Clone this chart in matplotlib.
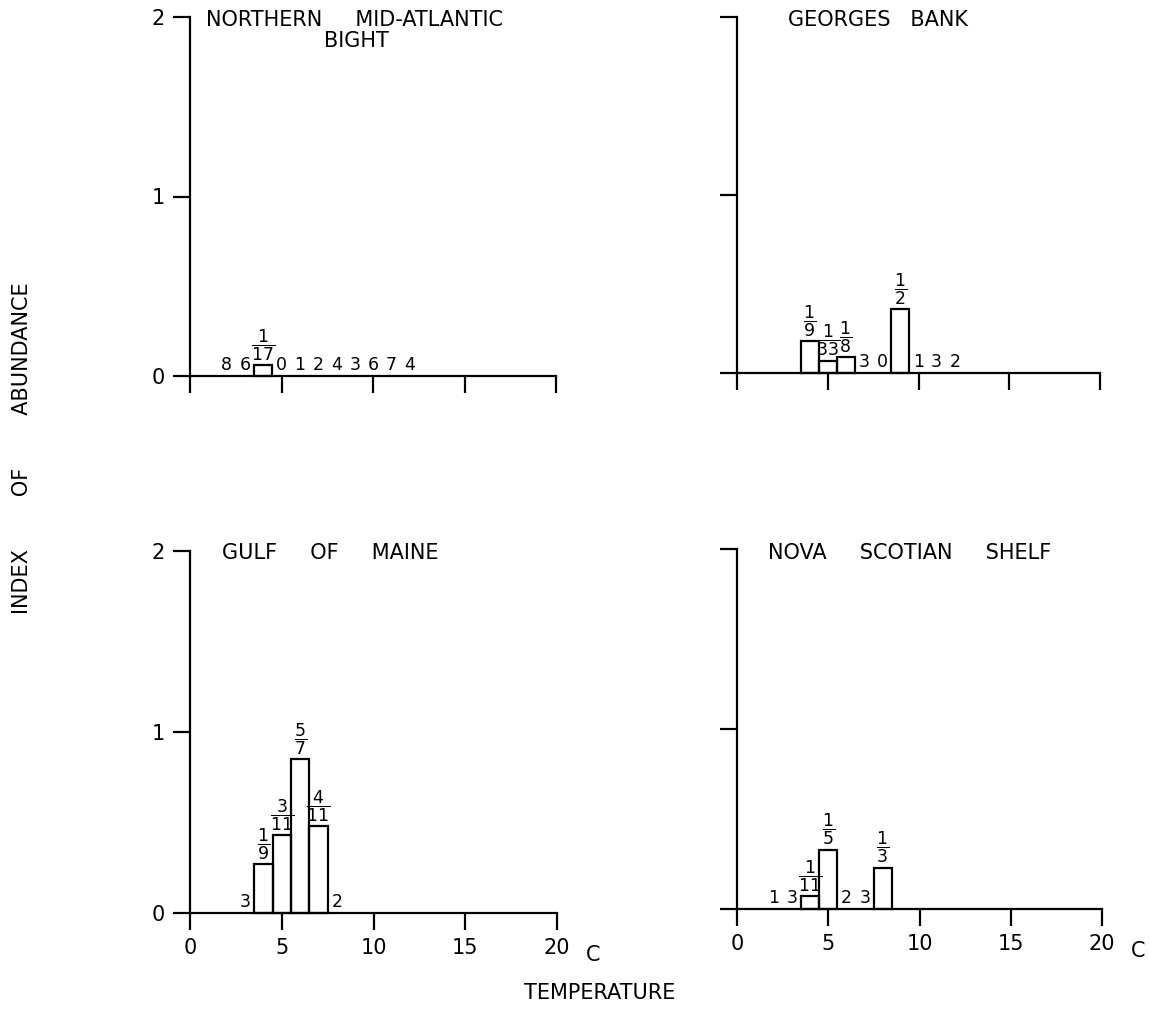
import matplotlib
matplotlib.use("Agg")
import matplotlib.pyplot as plt

plt.rcParams['font.family'] = ['DejaVu Sans']
plt.rcParams['mathtext.fontset'] = 'dejavusans'
plt.rcParams['mathtext.default'] = 'regular'

# ---- data ----
# Northern Mid-Atlantic Bight
nmab_bins = [4]
nmab_vals = [0.06]
nmab_fracs = [("1", "17")]
nmab_zero_bins = [2, 3, 5, 6, 7, 8, 9, 10, 11, 12]
nmab_zero_labels = ["8", "6", "0", "1", "2", "4", "3", "6", "7", "4"]

# Georges Bank
gb_bins = [4, 5, 6, 9]
gb_vals = [0.18, 0.07, 0.09, 0.36]
gb_fracs = [("1", "9"), ("1", "33"), ("1", "8"), ("1", "2")]
gb_zero_bins = [7, 8, 10, 11, 12]
gb_zero_labels = ["3", "0", "1", "3", "2"]

# Gulf of Maine
gom_bins = [4, 5, 6, 7]
gom_vals = [0.27, 0.43, 0.85, 0.48]
gom_fracs = [("1", "9"), ("3", "11"), ("5", "7"), ("4", "11")]
gom_zero_bins = [3, 8]
gom_zero_labels = ["3", "2"]

# Nova Scotian Shelf
nss_bins = [4, 5, 8]
nss_vals = [0.074, 0.33, 0.23]
nss_fracs = [("1", "11"), ("1", "5"), ("1", "3")]
nss_zero_bins = [2, 3, 6, 7]
nss_zero_labels = ["1", "3", "2", "3"]

x_ticks = [0, 5, 10, 15, 20]
y_ticks = [0, 1, 2]

W, H = 1150, 1014
fig = plt.figure(figsize=(W / 100, H / 100), dpi=100)


def rect(l, r, b, t):
    return [l / W, 1 - b / H, (r - l) / W, (b - t) / H]


panels = [
    dict(rect=rect(190, 556, 376, 17), bins=nmab_bins, vals=nmab_vals, fracs=nmab_fracs,
         zb=nmab_zero_bins, zl=nmab_zero_labels, ylab=True, xlab=False),
    dict(rect=rect(737, 1100, 373, 17), bins=gb_bins, vals=gb_vals, fracs=gb_fracs,
         zb=gb_zero_bins, zl=gb_zero_labels, ylab=False, xlab=False),
    dict(rect=rect(190, 557, 913, 551), bins=gom_bins, vals=gom_vals, fracs=gom_fracs,
         zb=gom_zero_bins, zl=gom_zero_labels, ylab=True, xlab=True),
    dict(rect=rect(737, 1102, 909, 549), bins=nss_bins, vals=nss_vals, fracs=nss_fracs,
         zb=nss_zero_bins, zl=nss_zero_labels, ylab=False, xlab=True),
]

lw = 1.6
for p in panels:
    ax = fig.add_axes(p["rect"])
    ax.set_xlim(0, 20)
    ax.set_ylim(0, 2)
    for s in ("top", "right"):
        ax.spines[s].set_visible(False)
    for s in ("left", "bottom"):
        ax.spines[s].set_linewidth(lw)
    ax.set_xticks(x_ticks)
    ax.set_yticks(y_ticks)
    ax.tick_params(direction="out", length=12, width=lw, labelsize=15, pad=6)
    if not p["ylab"]:
        ax.set_yticklabels([])
    if not p["xlab"]:
        ax.set_xticklabels([])
    else:
        ax.annotate("C", xy=(20, 0), xytext=(26, -23), textcoords="offset points",
                    ha="center", va="top", fontsize=15)
    ax.bar(p["bins"], p["vals"], width=1.0, fill=False, edgecolor="black",
           linewidth=lw, clip_on=False)
    for b, v, (n, d) in zip(p["bins"], p["vals"], p["fracs"]):
        ax.text(b, v + 0.012, r"$\dfrac{%s}{%s}$" % (n, d), ha="center", va="bottom",
                fontsize=12.5)
    for b, t in zip(p["zb"], p["zl"]):
        ax.text(b, 0.012, t, ha="center", va="bottom", fontsize=12.5)

# titles
tk = dict(fontsize=15, va="center")
fig.text(206 / W, 1 - 20 / H, "NORTHERN     MID-ATLANTIC", ha="left", **tk)
fig.text(356 / W, 1 - 41 / H, "BIGHT", ha="center", **tk)
fig.text(788 / W, 1 - 20 / H, "GEORGES   BANK", ha="left", **tk)
fig.text(222 / W, 1 - 553 / H, "GULF     OF     MAINE", ha="left", **tk)
fig.text(768 / W, 1 - 553 / H, "NOVA     SCOTIAN     SHELF", ha="left", **tk)

# axis labels
fig.text(22 / W, 1 - 448 / H, "INDEX        OF        ABUNDANCE", rotation=90,
         ha="center", va="center", fontsize=15)
fig.text(600 / W, 1 - 993 / H, "TEMPERATURE", ha="center", va="center", fontsize=15)

fig.savefig("out.png", dpi=100, facecolor="white")
